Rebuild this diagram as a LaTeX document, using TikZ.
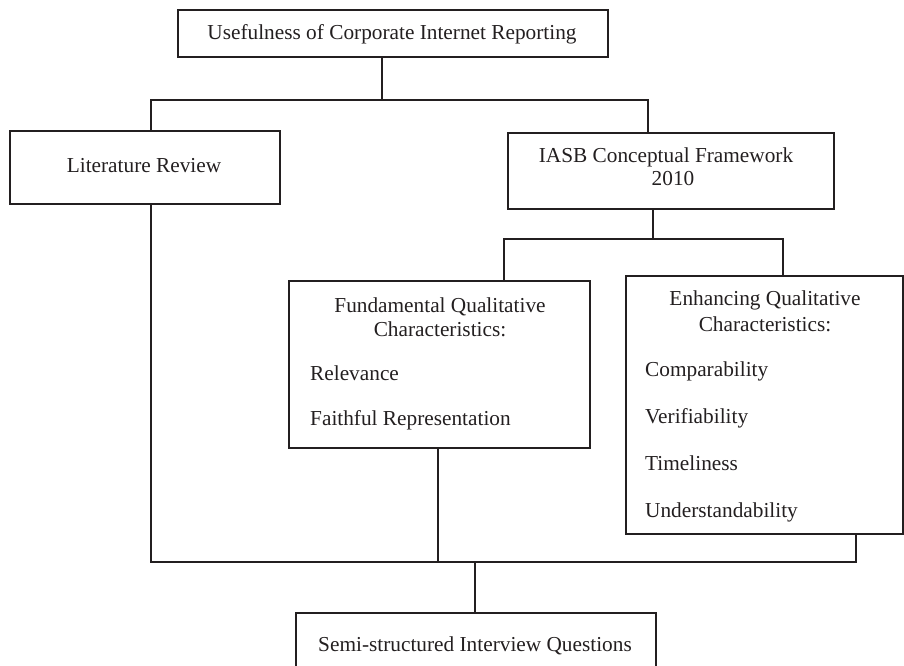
\documentclass[tikz,border=0pt]{standalone}
\usepackage{fontspec}
\setmainfont{Liberation Serif}
\definecolor{ink}{HTML}{231F20}
\begin{document}
\begin{tikzpicture}[x=1pt,y=-1pt,
  box/.style={draw=ink, line width=1.5pt, inner sep=0pt, anchor=north west},
  ln/.style={draw=ink, line width=1.5pt},
  txt/.style={inner sep=0pt, text=ink, font=\fontsize{21.3}{25}\selectfont, anchor=base},
  item/.style={txt, anchor=base west}]
\useasboundingbox (0,0) rectangle (904,665);
\clip (0,0) rectangle (904,665);
% boxes
\node[box, minimum width=430pt, minimum height=47pt] (top) at (177,9) {};
\node[box, minimum width=270pt, minimum height=73pt] (lit) at (9,130) {};
\node[box, minimum width=326pt, minimum height=76pt] (iasb) at (507,132) {};
\node[box, minimum width=301pt, minimum height=167pt] (fund) at (288,280) {};
\node[box, minimum width=277pt, minimum height=258pt] (enh) at (625,275) {};
\node[box, minimum width=360pt, minimum height=90pt] (semi) at (295,612) {};
% texts
\node[txt] (ttop) at (392,39) {Usefulness of Corporate Internet Reporting};
\node[txt] (tlit) at (144,172) {Literature Review};
\node[txt] (tiasb1) at (666,162) {IASB Conceptual Framework};
\node[txt] (tiasb2) at (673,185) {2010};
\node[txt] (tf1) at (440,312) {Fundamental Qualitative};
\node[txt] (tf2) at (440,336) {Characteristics:};
\node[item] (tf3) at (310,380) {Relevance};
\node[item] (tf4) at (310,425) {Faithful Representation};
\node[txt] (te1) at (765,305) {Enhancing Qualitative};
\node[txt] (te2) at (765,331) {Characteristics:};
\node[item] (te3) at (645,376) {Comparability};
\node[item] (te4) at (645,423) {Verifiability};
\node[item] (te5) at (645,470) {Timeliness};
\node[item] (te6) at (645,517) {Understandability};
\node[txt] (tsemi) at (475,651) {Semi-structured Interview Questions};
% junction coordinates
\coordinate (a1) at (382,100);
\coordinate (aL) at (151,100);
\coordinate (aR) at (648,100);
\coordinate (b1) at (653,239);
\coordinate (bL) at (504,239);
\coordinate (bR) at (783,239);
\coordinate (cL) at (151,562);
\coordinate (cF) at (438,562);
\coordinate (cS) at (475,562);
\coordinate (cR) at (856,562);
% connectors
\draw[ln] (a1 |- top.south) -- (a1);
\draw[ln] (aL |- lit.north) -- (aL) -- (aR) -- (aR |- iasb.north);
\draw[ln] (b1 |- iasb.south) -- (b1);
\draw[ln] (bL |- fund.north) -- (bL) -- (bR) -- (bR |- enh.north);
\draw[ln] (cL |- lit.south) -- (cL) -- (cR) -- (cR |- enh.south);
\draw[ln] (cF |- fund.south) -- (cF);
\draw[ln] (cS) -- (cS |- semi.north);
\end{tikzpicture}
\end{document}
